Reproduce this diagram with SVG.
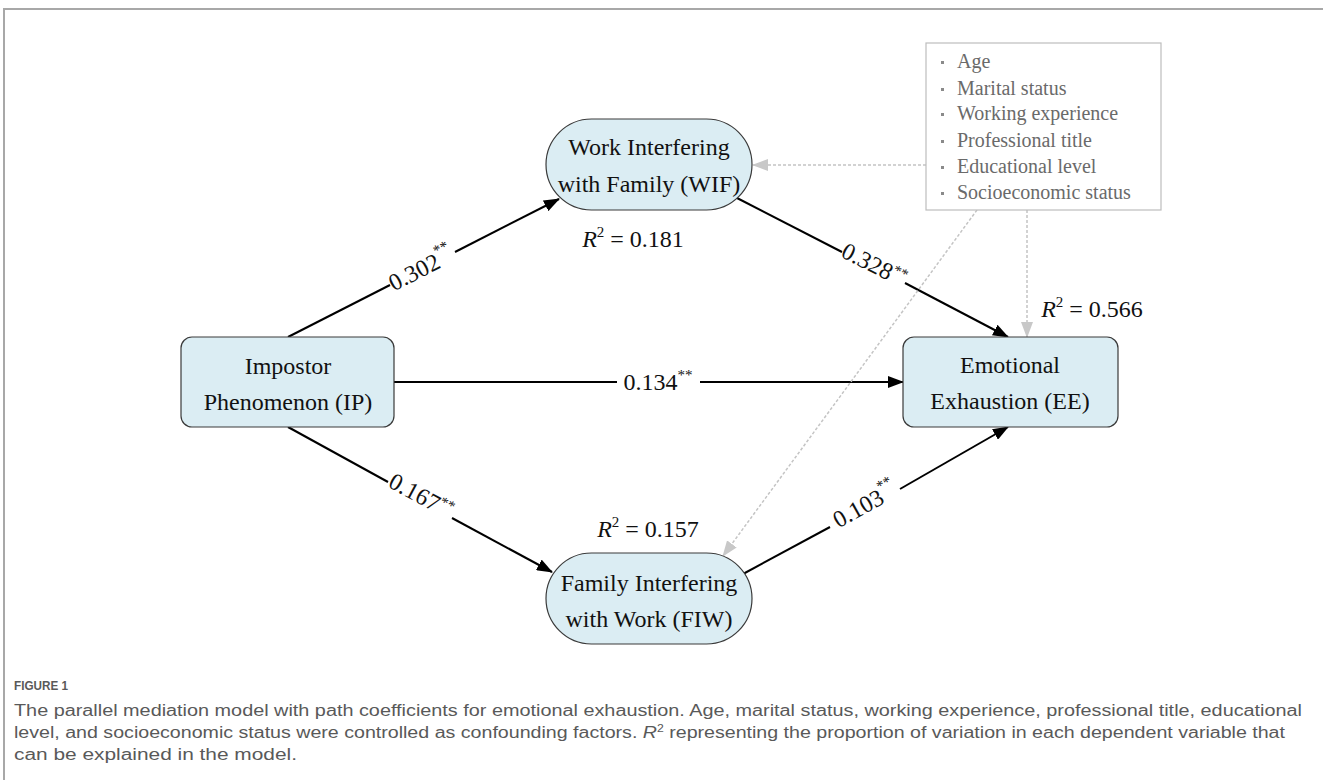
<svg xmlns="http://www.w3.org/2000/svg" width="1323" height="780" viewBox="0 0 1323 780">
<style>
.node{fill:#dbedf3;stroke:#3a3a3a;stroke-width:1.2}
.nt{font-family:"Liberation Serif","Times New Roman",serif;font-size:24px;fill:#111;text-anchor:middle}
.lbl{font-family:"Liberation Serif","Times New Roman",serif;font-size:24px;fill:#111}
.sup{font-size:15px}
.edge{stroke:#000;stroke-width:2;fill:none}
.dash{stroke:#c4c4c4;stroke-width:1.5;stroke-dasharray:3 2;fill:none}
.leg{font-family:"Liberation Serif","Times New Roman",serif;font-size:20px;fill:#6a6a6a}
.cap{font-family:"Liberation Sans","Arial",sans-serif;fill:#595959}
</style>
<defs>
<marker id="ah" markerWidth="16" markerHeight="12" refX="15" refY="6" orient="auto" markerUnits="userSpaceOnUse">
<path d="M0,0 L16,6 L0,12 Z" fill="#000"/>
</marker>
<marker id="gh" markerWidth="16" markerHeight="12" refX="15" refY="6" orient="auto" markerUnits="userSpaceOnUse">
<path d="M0,0 L16,6 L0,12 Z" fill="#c8c8c8"/>
</marker>
</defs>
<rect width="1323" height="780" fill="#fff"/>
<path d="M4,780 V9 H1323" fill="none" stroke="#a8a8a8" stroke-width="2"/>

<g id="connectors">
<path class="edge" d="M288,337 L390,285"/>
<path class="edge" d="M455,252 L559,199" marker-end="url(#ah)"/>
<path class="edge" d="M737,198 L842,252"/>
<path class="edge" d="M905,283 L1008,337" marker-end="url(#ah)"/>
<path class="edge" d="M394,382 L617,382"/>
<path class="edge" d="M700,382 L903,382" marker-end="url(#ah)"/>
<path class="edge" d="M288,427 L388,482"/>
<path class="edge" d="M452,518 L552,572" marker-end="url(#ah)"/>
<path class="edge" d="M743,574 L830,527"/>
<path class="edge" d="M900,489 L1008,427" marker-end="url(#ah)"/>
<path class="dash" d="M926,165 L753,165" marker-end="url(#gh)"/>
<path class="dash" d="M1027,210 L1027,337" marker-end="url(#gh)"/>
<path class="dash" d="M977,210 L723,556" marker-end="url(#gh)"/>
<text class="lbl" transform="translate(422,271) rotate(-27)" text-anchor="middle" dominant-baseline="middle">0.302<tspan class="sup" dy="-10">**</tspan></text>
<text class="lbl" transform="translate(873,267) rotate(27)" text-anchor="middle" dominant-baseline="middle">0.328<tspan class="sup" dy="-6">**</tspan></text>
<text class="lbl" x="658" y="390" text-anchor="middle">0.134<tspan class="sup" dy="-10">**</tspan></text>
<text class="lbl" transform="translate(420,498) rotate(28.5)" text-anchor="middle" dominant-baseline="middle">0.167<tspan class="sup" dy="-6">**</tspan></text>
<text class="lbl" transform="translate(866,507) rotate(-29)" text-anchor="middle" dominant-baseline="middle">0.103<tspan class="sup" dy="-10">**</tspan></text>
</g>

<g id="IP">
<rect class="node" x="181" y="337" width="213" height="90" rx="11"/>
<text class="nt" x="288" y="374">Impostor</text>
<text class="nt" x="288" y="410">Phenomenon (IP)</text>
</g>
<g id="WIF">
<rect class="node" x="546" y="119" width="206" height="91" rx="45.5"/>
<text class="nt" x="649" y="155">Work Interfering</text>
<text class="nt" x="649" y="192">with Family (WIF)</text>
<text class="lbl" x="633" y="247" text-anchor="middle"><tspan font-style="italic">R</tspan><tspan class="sup" dy="-10">2</tspan><tspan dy="10"> = 0.181</tspan></text>
</g>
<g id="FIW">
<rect class="node" x="546" y="553" width="206" height="91" rx="45.5"/>
<text class="nt" x="649" y="591">Family Interfering</text>
<text class="nt" x="649" y="627">with Work (FIW)</text>
<text class="lbl" x="648" y="537" text-anchor="middle"><tspan font-style="italic">R</tspan><tspan class="sup" dy="-10">2</tspan><tspan dy="10"> = 0.157</tspan></text>
</g>
<g id="EE">
<rect class="node" x="903" y="337" width="215" height="90" rx="11"/>
<text class="nt" x="1010" y="373">Emotional</text>
<text class="nt" x="1010" y="409">Exhaustion (EE)</text>
<text class="lbl" x="1092" y="317" text-anchor="middle"><tspan font-style="italic">R</tspan><tspan class="sup" dy="-10">2</tspan><tspan dy="10"> = 0.566</tspan></text>
</g>
<g id="covariates">
<rect x="926" y="43" width="235" height="167" fill="#fff" stroke="#bdbdbd" stroke-width="1.2"/>
<g fill="#8a8a8a">
<rect x="941" y="61" width="3" height="3"/>
<rect x="941" y="88" width="3" height="3"/>
<rect x="941" y="113" width="3" height="3"/>
<rect x="941" y="140" width="3" height="3"/>
<rect x="941" y="166" width="3" height="3"/>
<rect x="941" y="192" width="3" height="3"/>
</g>
<text class="leg" x="957" y="68">Age</text>
<text class="leg" x="957" y="95">Marital status</text>
<text class="leg" x="957" y="120">Working experience</text>
<text class="leg" x="957" y="147">Professional title</text>
<text class="leg" x="957" y="173">Educational level</text>
<text class="leg" x="957" y="199">Socioeconomic status</text>
</g>
<g id="caption">
<text class="cap" x="14" y="690" font-size="12" font-weight="bold" fill="#666" textLength="54" lengthAdjust="spacingAndGlyphs">FIGURE 1</text>
<text class="cap" x="14" y="716" font-size="16" textLength="1288" lengthAdjust="spacingAndGlyphs">The parallel mediation model with path coefficients for emotional exhaustion. Age, marital status, working experience, professional title, educational</text>
<text class="cap" x="14" y="738" font-size="16" textLength="1271" lengthAdjust="spacingAndGlyphs">level, and socioeconomic status were controlled as confounding factors. <tspan font-style="italic">R</tspan><tspan font-size="10" dy="-6">2</tspan><tspan dy="6"> representing the proportion of variation in each dependent variable that</tspan></text>
<text class="cap" x="14" y="760" font-size="16" textLength="283" lengthAdjust="spacingAndGlyphs">can be explained in the model.</text>
</g>
</svg>
